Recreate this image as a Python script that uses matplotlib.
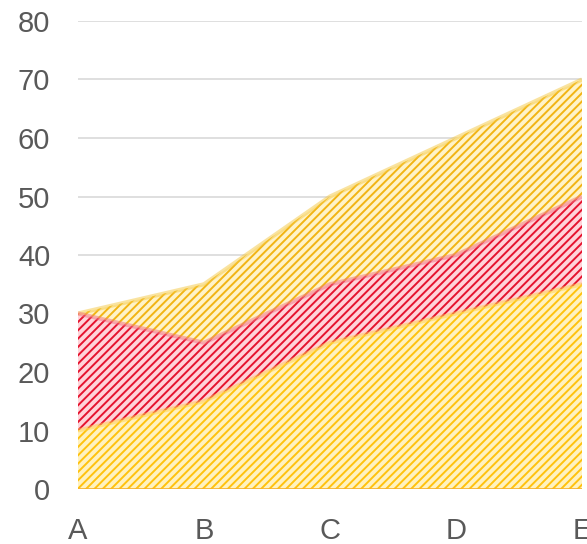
import matplotlib.pyplot as plt
import matplotlib as mpl

# categories and the three overlapping area series
categorias = ["A", "B", "C", "D", "E"]
serie_alta = [30, 35, 50, 60, 70]
serie_media = [30, 25, 35, 40, 50]
serie_baja = [10, 15, 25, 30, 35]

mpl.rcParams["hatch.linewidth"] = 1.4
plt.rcParams["font.family"] = ["Liberation Sans", "DejaVu Sans"]

fig = plt.figure(figsize=(5.87, 5.44), dpi=100)
ax = fig.add_axes([78 / 587, 1 - 489 / 544, 504 / 587, 468 / 544])

x = list(range(len(categorias)))

# (valores, fondo, rayado, borde)
capas = [
    (serie_alta, "#FFF3C8", "#F2B413", "#F5C842"),
    (serie_media, "#FFD3D9", "#E5132E", "#F07080"),
    (serie_baja, "#FFF2C0", "#FFC20E", "#FFD24A"),
]

for vals, fondo, rayado, borde in capas:
    ax.fill_between(x, 0, vals, facecolor=fondo, edgecolor="none", zorder=2)
    ax.fill_between(x, 0, vals, facecolor="none", edgecolor=rayado,
                    hatch="////", linewidth=0, zorder=2)
    ax.plot(x, vals, color=borde, linewidth=3, alpha=0.5, zorder=3,
            solid_capstyle="butt")

ax.axhline(0, color="#F5B02A", linewidth=1.2, zorder=3)

ax.set_xlim(0, len(categorias) - 1)
ax.set_ylim(0, 80)
ax.set_yticks(range(0, 81, 10))
ax.set_xticks(x)
ax.set_xticklabels(categorias)
ax.yaxis.grid(True, color="#D9D9D9", linewidth=1.2, zorder=1)
ax.set_axisbelow(True)
ax.tick_params(length=0, labelsize=21, labelcolor="#595959")
ax.tick_params(axis="y", pad=20)
ax.tick_params(axis="x", pad=20)
for s in ax.spines.values():
    s.set_visible(False)

fig.savefig("out.png", dpi=100)
